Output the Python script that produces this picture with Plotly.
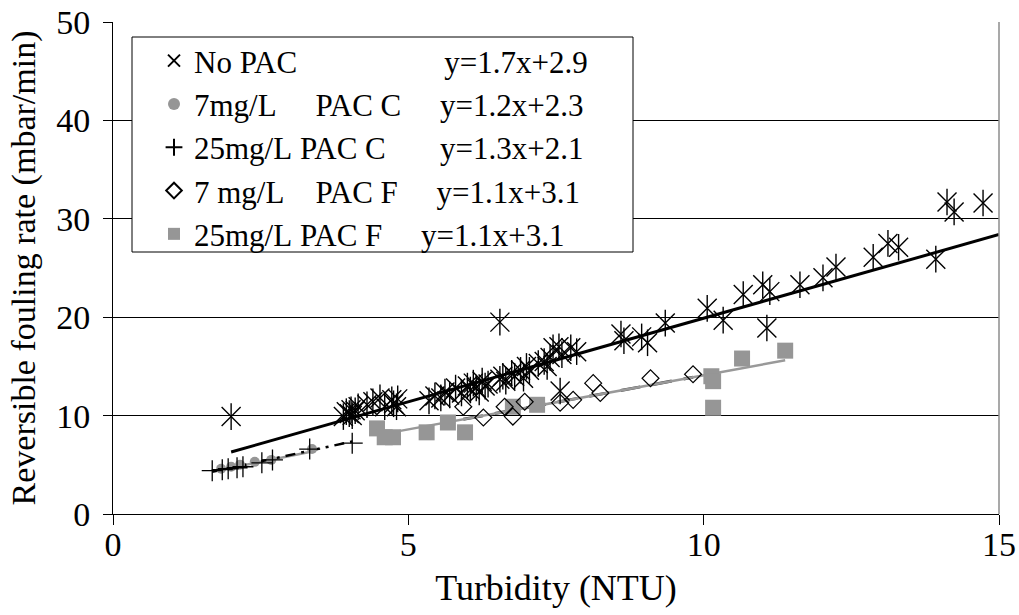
import plotly.graph_objects as go

# ---------------- data ----------------
nopac_x = [2.0, 3.9, 3.95, 4.0, 4.03, 4.05, 4.1, 4.15, 4.3, 4.4, 4.52, 4.6, 4.72, 4.75, 4.8, 4.82,
           5.35, 5.45, 5.55, 5.62, 5.7, 5.8, 5.9, 6.0, 6.05, 6.1, 6.15, 6.2, 6.25, 6.3, 6.35,
           6.55, 6.6, 6.65, 6.75, 6.8, 6.9, 6.95, 7.0, 7.05, 7.2, 7.3, 7.35, 7.4, 7.45, 7.55, 7.6, 7.75, 7.85,
           6.55, 7.57,
           8.6, 8.65, 8.95, 9.05, 9.35, 10.06, 10.33, 10.67, 11.0, 11.12, 11.07, 11.63, 12.02, 12.24,
           12.87, 13.12, 13.3, 13.93, 14.12, 14.24, 14.73]
nopac_y = [9.9, 9.9, 10.4, 10.2, 10.6, 10.0, 10.5, 10.9, 11.1, 11.4, 11.8, 10.9, 11.6, 11.2, 10.9, 11.7,
           11.5, 12.0, 11.8, 12.4, 12.1, 12.8, 12.3, 13.0, 12.6, 13.3, 12.8, 12.4, 13.5, 13.0, 13.2,
           13.7, 14.0, 13.5, 14.3, 14.0, 14.6, 13.8, 15.0, 14.6, 15.3, 15.5, 15.0, 15.9, 16.9, 17.0, 16.2, 16.9, 16.5,
           19.5, 12.5,
           18.3, 17.6, 18.0, 17.4, 19.4, 20.9, 19.7, 22.3, 23.3, 22.6, 18.9, 23.3, 24.0, 25.1,
           26.1, 27.5, 27.1, 25.9, 31.7, 30.7, 31.6]

pac7c_x = [1.83, 2.0, 2.15, 2.4, 2.68, 3.37]
pac7c_y = [4.6, 4.8, 5.0, 5.3, 5.5, 6.6]

pac25c_x = [1.68, 1.85, 1.95, 2.1, 2.2, 2.52, 2.7, 3.33, 4.05]
pac25c_y = [4.4, 4.5, 4.6, 4.7, 4.8, 5.2, 5.5, 6.6, 7.2]

pac7f_x = [5.93, 6.27, 6.63, 6.77, 6.97, 7.57, 7.79, 8.13, 8.25, 9.1, 9.82]
pac7f_y = [10.9, 9.8, 10.9, 9.9, 11.4, 11.3, 11.6, 13.3, 12.3, 13.8, 14.2]

pac25f_x = [4.47, 4.6, 4.74, 5.31, 5.67, 5.96, 6.77, 7.18, 10.13, 10.16, 10.16, 10.65, 11.38]
pac25f_y = [8.7, 7.8, 7.8, 8.3, 9.3, 8.3, 10.9, 11.1, 14.0, 13.5, 10.8, 15.8, 16.6]

# trendline equations (from legend) and their drawn x extents
fit_slope = [1.7, 1.2, 1.3, 1.1, 1.1]
fit_intercept = [2.9, 2.3, 2.1, 3.1, 3.1]
fit_x_start = [2.0, 1.83, 1.68, 5.93, 4.47]
fit_x_end = [15.0, 3.37, 4.05, 9.82, 11.38]

NB = "\u00a0"
legend_names = [
    "No" + NB + "PAC" + NB * 19 + "y=1.7x+2.9",
    "7mg/L" + NB * 5 + "PAC" + NB + "C" + NB * 5 + "y=1.2x+2.3",
    "25mg/L" + NB + "PAC" + NB + "C" + NB * 7 + "y=1.3x+2.1",
    "7" + NB + "mg/L" + NB * 4 + "PAC" + NB + "F" + NB * 5 + "y=1.1x+3.1",
    "25mg/L" + NB + "PAC" + NB + "F" + NB * 5 + "y=1.1x+3.1",
]

x_ticks = [0, 5, 10, 15]
y_ticks = [0, 10, 20, 30, 40, 50]

FONT = "Liberation Serif"
GRAY = "#999999"

fig = go.Figure()

# ---- trendlines ----
line_styles = [
    dict(color="black", width=3),
    dict(color=GRAY, width=2.5),
    dict(color="black", width=2.5, dash="10px,6px,3px,6px"),
    dict(color="#404040", width=3, dash="20px,12px"),
    dict(color=GRAY, width=2.5),
]
for i in range(5):
    xs = [fit_x_start[i], fit_x_end[i]]
    ys = [fit_slope[i] * v + fit_intercept[i] for v in xs]
    fig.add_trace(go.Scatter(x=xs, y=ys, mode="lines", line=line_styles[i],
                             showlegend=False, hoverinfo="skip"))

# ---- markers ----
fig.add_trace(go.Scatter(x=pac25f_x, y=pac25f_y, mode="markers", name=legend_names[4],
                         marker=dict(symbol="square", size=16, color="#969696",
                                     line=dict(width=0)), legendrank=5))
fig.add_trace(go.Scatter(x=pac7f_x, y=pac7f_y, mode="markers", name=legend_names[3],
                         marker=dict(symbol="diamond-open", size=13, color="black",
                                     line=dict(width=1.2, color="black")), legendrank=4))
fig.add_trace(go.Scatter(x=pac7c_x, y=pac7c_y, mode="markers", name=legend_names[1],
                         marker=dict(symbol="circle", size=10, color="#969696",
                                     line=dict(width=0)), legendrank=2))
fig.add_trace(go.Scatter(x=pac25c_x, y=pac25c_y, mode="markers", name=legend_names[2],
                         marker=dict(symbol="cross-thin-open", size=15, color="black",
                                     line=dict(width=1.3, color="black")), legendrank=3))
fig.add_trace(go.Scatter(x=nopac_x, y=nopac_y, mode="markers", name=legend_names[0],
                         marker=dict(symbol="x-thin-open", size=19, color="black",
                                     line=dict(width=1.4, color="black")), legendrank=1))
fig.add_trace(go.Scatter(x=nopac_x, y=nopac_y, mode="markers", showlegend=False,
                         marker=dict(symbol="line-ns-open", size=19, color="black",
                                     line=dict(width=1.4, color="black")), hoverinfo="skip"))

PW, PH = 886, 492
fig.add_shape(type="rect", xref="paper", yref="paper", layer="above",
              x0=(132 - 113) / PW, x1=(633 - 113) / PW,
              y0=(514 - 252) / PH, y1=(514 - 37) / PH,
              line=dict(color="black", width=1), fillcolor="white")
fig.add_shape(type="line", xref="x domain", yref="y domain", x0=1, x1=1, y0=0, y1=1,
              line=dict(color="#8c8c8c", width=1.5), layer="above")

fig.update_layout(
    width=1019, height=615,
    margin=dict(l=113, r=20, t=22, b=101, autoexpand=False),
    paper_bgcolor="white", plot_bgcolor="white",
    font=dict(family=FONT, size=32, color="black"),
    showlegend=True,
    legend=dict(x=(154 - 113) / PW, y=(514 - 34) / PH, xanchor="left", yanchor="top",
                bgcolor="rgba(0,0,0,0)", borderwidth=0,
                font=dict(family=FONT, size=31, color="black"),
                tracegroupgap=0, itemsizing="constant"),
    xaxis=dict(range=[0, 15], tickvals=x_ticks, ticks="outside", ticklen=10,
               tickcolor="black", tickwidth=1, showline=True, linecolor="black",
               linewidth=1, showgrid=False, zeroline=False, automargin=False,
               tickfont=dict(family=FONT, size=34), ticklabelstandoff=-10,
               title=dict(text="Turbidity (NTU)", font=dict(family=FONT, size=36), standoff=13)),
    yaxis=dict(range=[0, 50], tickvals=y_ticks, ticks="outside", ticklen=9,
               tickcolor="black", tickwidth=1, showline=True, linecolor="black",
               linewidth=1, showgrid=True, gridcolor="black", gridwidth=1, zeroline=False,
               automargin=False,
               tickfont=dict(family=FONT, size=34), ticklabelstandoff=6,
               title=dict(text="Reversible fouling rate (mbar/min)",
                          font=dict(family=FONT, size=34), standoff=10)),
)

fig.write_html("out.html")
